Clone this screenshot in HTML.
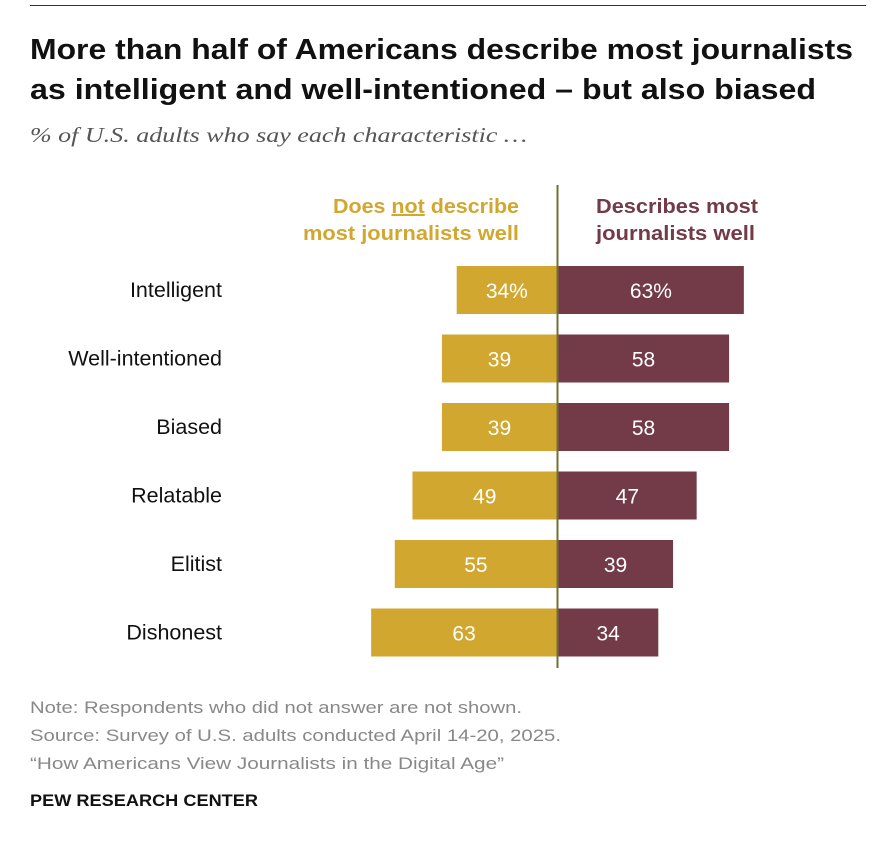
<!DOCTYPE html>
<html><head><meta charset="utf-8">
<style>
body{margin:0;background:#fff;width:886px;height:842px;overflow:hidden;font-family:"Liberation Sans",sans-serif;}
</style></head>
<body>
<svg width="886" height="842" viewBox="0 0 886 842">
<line x1="30" y1="5.5" x2="866" y2="5.5" stroke="#333" stroke-width="1"/>
<text x="30" y="59" font-size="29" font-weight="bold" fill="#111" textLength="823" lengthAdjust="spacingAndGlyphs">More than half of Americans describe most journalists</text>
<text x="30" y="99" font-size="29" font-weight="bold" fill="#111" textLength="786" lengthAdjust="spacingAndGlyphs">as intelligent and well-intentioned – but also biased</text>
<text x="30" y="142" font-size="21" font-style="italic" fill="#555" font-family="Liberation Serif, serif" textLength="497" lengthAdjust="spacingAndGlyphs">% of U.S. adults who say each characteristic …</text>
<text x="333" y="213" font-size="20" font-weight="bold" fill="#d1a730" textLength="186" lengthAdjust="spacingAndGlyphs">Does <tspan text-decoration="underline">not</tspan> describe</text>
<text x="303" y="240" font-size="20" font-weight="bold" fill="#d1a730" textLength="216" lengthAdjust="spacingAndGlyphs">most journalists well</text>
<text x="596" y="213" font-size="20" font-weight="bold" fill="#733a47" textLength="162" lengthAdjust="spacingAndGlyphs">Describes most</text>
<text x="596" y="240" font-size="20" font-weight="bold" fill="#733a47" textLength="159" lengthAdjust="spacingAndGlyphs">journalists well</text>
<g id="bars"></g>
<line x1="557.5" y1="185" x2="557.5" y2="668" stroke="#6f7033" stroke-width="2"/>
<text x="30" y="713" font-size="17" fill="#888" textLength="492" lengthAdjust="spacingAndGlyphs">Note: Respondents who did not answer are not shown.</text>
<text x="30" y="741" font-size="17" fill="#888" textLength="531" lengthAdjust="spacingAndGlyphs">Source: Survey of U.S. adults conducted April 14-20, 2025.</text>
<text x="30" y="769" font-size="17" fill="#888" textLength="474" lengthAdjust="spacingAndGlyphs">“How Americans View Journalists in the Digital Age”</text>
<text x="30" y="806" font-size="17" font-weight="bold" fill="#111" textLength="228" lengthAdjust="spacingAndGlyphs">PEW RESEARCH CENTER</text>
</svg>
<script>
const categories=["Intelligent","Well-intentioned","Biased","Relatable","Elitist","Dishonest"];
const notDescribe=[34,39,39,49,55,63];
const describes=[63,58,58,47,39,34];
const notLabels=["34%","39","39","49","55","63"];
const descLabels=["63%","58","58","47","39","34"];
const NS="http://www.w3.org/2000/svg";
const cx=557, k=2.95, y0=266, step=68.5, bh=48;
const g=document.getElementById('bars');
function mk(t,a){const e=document.createElementNS(NS,t);for(const n in a)e.setAttribute(n,a[n]);g.appendChild(e);return e;}
categories.forEach((c,i)=>{
  const y=y0+i*step;
  const wl=notDescribe[i]*k, wr=describes[i]*k;
  const l=mk('text',{x:222,y:y+bh/2+7,'font-size':21.5,fill:'#111','text-anchor':'end'});l.textContent=c;
  
  
  const b1=mk('rect',{x:cx-wl,y:y,width:wl,height:bh,fill:'#d1a730'});
  
  
  const b2=mk('rect',{x:cx+1,y:y,width:wr,height:bh,fill:'#733a47'});
  
  
  const t1=mk('text',{x:cx-wl/2,y:y+bh/2+8,'font-size':21,fill:'#fff','text-anchor':'middle'});t1.textContent=notLabels[i];
  
  
  const t2=mk('text',{x:cx+1+wr/2,y:y+bh/2+8,'font-size':21,fill:'#fff','text-anchor':'middle'});t2.textContent=descLabels[i];
  
  
});
</script>
</body></html>
